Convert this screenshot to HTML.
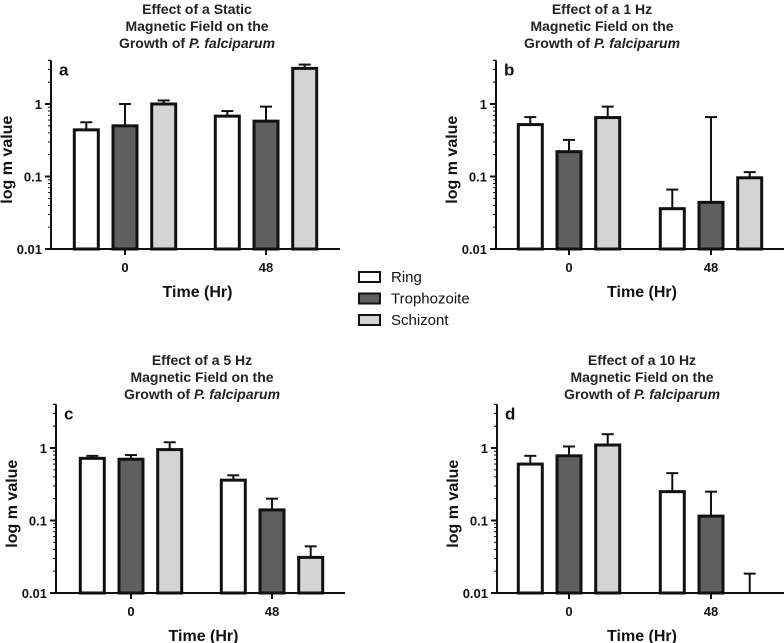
<!DOCTYPE html>
<html><head><meta charset="utf-8">
<style>
html,body{margin:0;padding:0;background:#fff;}
svg{display:block;font-family:"Liberation Sans",Arial,sans-serif;}
</style></head>
<body>
<svg id="fig" width="784" height="643" viewBox="0 0 784 643" xmlns="http://www.w3.org/2000/svg"></svg>
<script>
const categories = ["0", "48"];
const seriesNames = ["Ring", "Trophozoite", "Schizont"];
// values per panel: [ring0, troph0, schiz0, ring48, troph48, schiz48]
const valsA = [0.44, 0.50, 1.0, 0.68, 0.58, 3.1];
const errA  = [0.56, 1.0, 1.12, 0.80, 0.92, 3.5];
const valsB = [0.52, 0.22, 0.65, 0.036, 0.044, 0.096];
const errB  = [0.66, 0.32, 0.92, 0.066, 0.66, 0.115];
const valsC = [0.72, 0.70, 0.95, 0.36, 0.14, 0.031];
const errC  = [0.78, 0.80, 1.20, 0.42, 0.20, 0.044];
const valsD = [0.60, 0.78, 1.10, 0.25, 0.115, 0.01];
const errD  = [0.78, 1.05, 1.55, 0.45, 0.25, 0.0185];
const yTicks = [0.01, 0.1, 1];
const yTickLabels = ["0.01", "0.1", "1"];
const titlesA = ["Effect of a Static", "Magnetic Field on the"];
const titlesB = ["Effect of a 1 Hz", "Magnetic Field on the"];
const titlesC = ["Effect of a 5 Hz", "Magnetic  Field on the"];
const titlesD = ["Effect of a 10 Hz", "Magnetic  Field on the"];

const NS = "http://www.w3.org/2000/svg";
const svg = document.getElementById("fig");
const fills = ["#ffffff", "#5f5f5f", "#d4d4d4"];
function mk(tag, attrs, parent, text) {
  const e = document.createElementNS(NS, tag);
  for (const k in attrs) e.setAttribute(k, attrs[k]);
  if (text !== undefined) e.textContent = text;
  (parent || svg).appendChild(e);
  return e;
}

function panel(key, letter, vals, errs, titles, ax, by, axEnd, tick0, tick48, titleX, titleY) {
  const g = mk("g", {});
  
  
  const dec = 72.5;
  const y = v => by - (Math.log10(v) + 2) * dec;
  const yTop = y(4);
  const t = mk("text", {x: titleX, y: titleY, "text-anchor": "middle", "font-size": 14, "font-weight": "bold", fill: "#222"}, g);
  
  
  mk("tspan", {x: titleX, dy: 0}, t, titles[0]);
  mk("tspan", {x: titleX, dy: 17}, t, titles[1]);
  mk("tspan", {x: titleX, dy: 17}, t, "Growth of ");
  mk("tspan", {"font-style": "italic"}, t, "P. falciparum");
  const lt = mk("text", {x: ax + 8, y: yTop + 15, "font-size": 17, "font-weight": "bold", fill: "#111"}, g, letter);
  
  
  const centers = [tick0, tick48];
  for (let i = 0; i < 6; i++) {
    const grp = Math.floor(i / 3), s = i % 3;
    const cx = centers[grp] + (s - 1) * 38.7;
    const v = vals[i], e = errs[i];
    const yv = y(Math.max(v, 0.01));
    const el = mk("line", {x1: cx, x2: cx, y1: yv, y2: y(e), stroke: "#111", "stroke-width": 2}, g);
    
    
    mk("line", {x1: cx - 6, x2: cx + 6, y1: y(e), y2: y(e), stroke: "#111", "stroke-width": 2}, g);
    if (v > 0.0101) {
      const r = mk("rect", {x: cx - 12, y: yv, width: 24, height: by - yv, fill: fills[s], stroke: "#111", "stroke-width": 3}, g);
      
      
    }
  }
  const ya = mk("line", {x1: ax, x2: ax, y1: yTop, y2: by, stroke: "#111", "stroke-width": 2}, g);
  
  
  for (let d = -2; d <= 0; d++) {
    for (let m = 1; m <= 9; m++) {
      const v = m * Math.pow(10, d);
      if (v > 4) break;
      const yy = y(v);
      mk("line", {x1: ax - (m === 1 ? 6 : 3), x2: ax, y1: yy, y2: yy, stroke: "#111", "stroke-width": m === 1 ? 2 : 1}, g);
    }
  }
  mk("line", {x1: ax - 3, x2: ax, y1: y(2), y2: y(2), stroke: "#111"}, g);
  mk("line", {x1: ax - 3, x2: ax, y1: y(3), y2: y(3), stroke: "#111"}, g);
  mk("line", {x1: ax - 3, x2: ax, y1: y(4), y2: y(4), stroke: "#111"}, g);
  yTicks.forEach((v, i) => {
    const tl = mk("text", {x: ax - 9, y: y(v) + 5, "text-anchor": "end", "font-size": 13, "font-weight": "bold", fill: "#111"}, g, yTickLabels[i]);
    
    
  });
  const xa = mk("line", {x1: ax, x2: axEnd, y1: by, y2: by, stroke: "#111", "stroke-width": 2}, g);
  
  
  centers.forEach((c, i) => {
    mk("line", {x1: c, x2: c, y1: by, y2: by + 6, stroke: "#111", "stroke-width": 2}, g);
    const xl = mk("text", {x: c, y: by + 23, "text-anchor": "middle", "font-size": 13, "font-weight": "bold", fill: "#111"}, g, categories[i]);
    
    
  });
  const xt = mk("text", {x: (tick0 + tick48) / 2 + 2, y: by + 48, "text-anchor": "middle", "font-size": 16, "font-weight": "bold", fill: "#111"}, g, "Time (Hr)");
  
  
  const yx = ax - 39, ym = (yTop + by) / 2 + 5;
  const yt = mk("text", {x: yx, y: ym, transform: `rotate(-90 ${yx} ${ym})`, "text-anchor": "middle", "font-size": 16, "font-weight": "bold", fill: "#111"}, g, "log m value");
  
  
}

panel("a", "a", valsA, errA, titlesA, 51, 249, 340, 125, 266, 197, 14);
panel("b", "b", valsB, errB, titlesB, 496, 249, 784, 569, 711, 602, 14);
panel("c", "c", valsC, errC, titlesC, 56, 593, 345, 131, 272, 202, 365);
panel("d", "d", valsD, errD, titlesD, 497, 593, 784, 569, 711, 642, 365);

const lg = mk("g", {});


seriesNames.forEach((n, i) => {
  const yy = 277 + i * 21.5;
  const r = mk("rect", {x: 359, y: yy - 5, width: 21, height: 10, fill: fills[i], stroke: "#111", "stroke-width": 2}, lg);
  
  
  const t = mk("text", {x: 391, y: yy + 5, "font-size": 15, fill: "#111"}, lg, n);
  
  
});
</script>
</body></html>
